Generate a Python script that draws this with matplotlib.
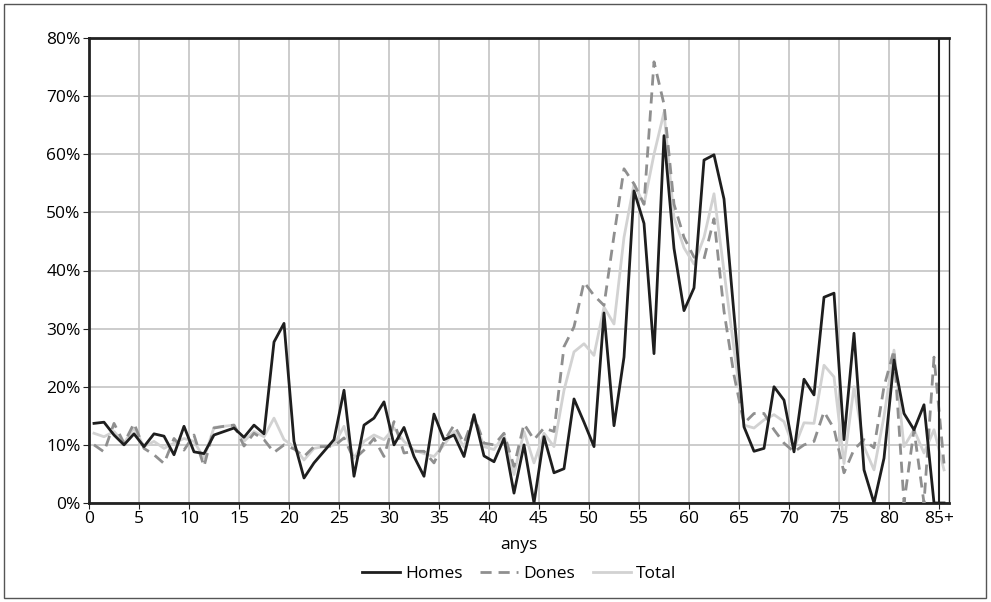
import matplotlib.pyplot as plt
import numpy as np
from matplotlib.patches import Rectangle

plt.rcParams['font.family'] = ['Open Sans', 'DejaVu Sans']

# edat 0..85 (85 = 85+)
homes = [13.7, 13.9, 11.7, 10.0, 11.9, 9.7, 11.9, 11.5, 8.3, 13.2,
         8.8, 8.5, 11.7, 12.3, 12.9, 11.3, 13.4, 11.9, 27.7, 30.9,
         10.6, 4.3, 6.9, 8.9, 10.9, 19.4, 4.6, 13.4, 14.6, 17.4,
         10.0, 13.0, 8.0, 4.6, 15.3, 10.9, 11.7, 8.0, 15.2, 8.1,
         7.1, 11.1, 1.7, 10.0, 0.0, 11.4, 5.2, 5.9, 17.9, 13.9,
         9.7, 32.7, 13.3, 25.1, 53.7, 48.1, 25.7, 63.2, 43.8, 33.1,
         37.0, 59.0, 59.9, 52.3, 32.5, 13.1, 8.9, 9.4, 20.0, 17.7,
         8.8, 21.3, 18.6, 35.4, 36.1, 10.9, 29.2, 5.7, 0.0, 7.7,
         24.6, 15.4, 12.6, 16.9, 0.0, 0.0]
dones = [10.0, 8.8, 13.7, 10.3, 13.7, 9.4, 8.3, 6.8, 11.1, 9.1,
         11.7, 6.3, 12.9, 13.2, 13.4, 9.8, 12.0, 10.9, 8.7, 10.0,
         9.3, 8.0, 9.7, 9.7, 9.8, 11.2, 7.5, 9.1, 11.1, 8.0,
         14.0, 8.6, 8.9, 8.9, 6.9, 10.6, 13.4, 10.3, 15.0, 10.3,
         10.0, 12.0, 6.3, 13.6, 10.9, 12.9, 12.3, 26.9, 30.3, 38.0,
         35.7, 34.0, 46.0, 57.5, 54.9, 51.4, 75.9, 68.6, 51.4, 45.7,
         42.3, 42.0, 48.9, 33.0, 22.0, 13.7, 15.4, 15.4, 12.6, 10.3,
         8.8, 10.0, 10.6, 15.7, 12.8, 5.2, 9.2, 10.9, 9.5, 20.0,
         26.3, 0.0, 12.6, 0.0, 25.1, 6.8]
total = [12.0, 11.4, 12.3, 10.3, 12.9, 9.7, 10.6, 9.4, 10.3, 11.1,
         10.6, 7.7, 13.0, 13.2, 13.4, 10.6, 12.3, 11.4, 14.6, 10.9,
         9.7, 7.4, 9.4, 9.7, 10.0, 13.2, 7.7, 10.6, 11.7, 10.9,
         12.9, 10.6, 9.1, 8.5, 8.0, 10.0, 12.3, 9.7, 14.6, 9.7,
         9.2, 11.7, 4.9, 12.3, 6.9, 12.0, 9.7, 19.4, 26.0, 27.4,
         25.4, 33.7, 30.8, 45.7, 54.9, 51.4, 60.0, 67.2, 49.1, 43.9,
         41.1, 45.7, 53.2, 39.9, 26.5, 13.4, 12.9, 14.3, 15.2, 14.0,
         9.4, 13.8, 13.7, 23.7, 21.7, 6.8, 20.0, 9.7, 5.7, 14.9,
         26.3, 9.7, 12.6, 8.6, 12.6, 5.7]

tick_pos = list(range(0, 86, 5))
tick_labels = [str(t) for t in range(0, 85, 5)] + ['85+']

x = np.arange(len(homes)) + 0.5

fig = plt.figure(figsize=(9.91, 6.02), dpi=100)
ax = fig.add_axes([89 / 991, 99 / 602, 860 / 991, 465 / 602])

ax.plot(x, total, color='#d2d2d2', lw=2.0, label='Total', zorder=3)
ax.plot(x, dones, color='#8f8f8f', lw=2.0, ls=(0, (4, 2.5)), label='Dones', zorder=4)
ax.plot(x, homes, color='#1e1e1e', lw=2.0, label='Homes', zorder=5)
ax.axvline(85, color='#222222', lw=1.5, zorder=6)

ax.set_xlim(0, 86)
ax.set_ylim(0, 80)
ax.set_xticks(tick_pos)
ax.set_xticklabels(tick_labels)
ax.set_yticks(range(0, 81, 10))
ax.set_yticklabels([f'{v}%' for v in range(0, 81, 10)])
ax.grid(True, color='#c4c4c4', lw=1.2)
ax.set_axisbelow(True)
ax.tick_params(labelsize=12.5, length=4, color='#222222', pad=2)
ax.set_xlabel('anys', fontsize=12.5, labelpad=7)
for s in ['left', 'bottom', 'top']:
    ax.spines[s].set_linewidth(2.0)
    ax.spines[s].set_color('#222222')
ax.spines['right'].set_linewidth(1.0)
ax.spines['right'].set_color('#222222')

h, l = ax.get_legend_handles_labels()
order = [2, 1, 0]
ax.legend([h[i] for i in order], [l[i] for i in order], loc='center',
          bbox_to_anchor=(0.5, -0.153), ncol=3, frameon=False, fontsize=12.5,
          handlelength=2.2, handletextpad=0.3, columnspacing=1.0)

fig.patches.append(Rectangle((4 / 991, 4 / 602), 982 / 991, 594 / 602,
                             transform=fig.transFigure, fill=False,
                             edgecolor='#555555', lw=1.0))

fig.savefig('out.png', dpi=100)
